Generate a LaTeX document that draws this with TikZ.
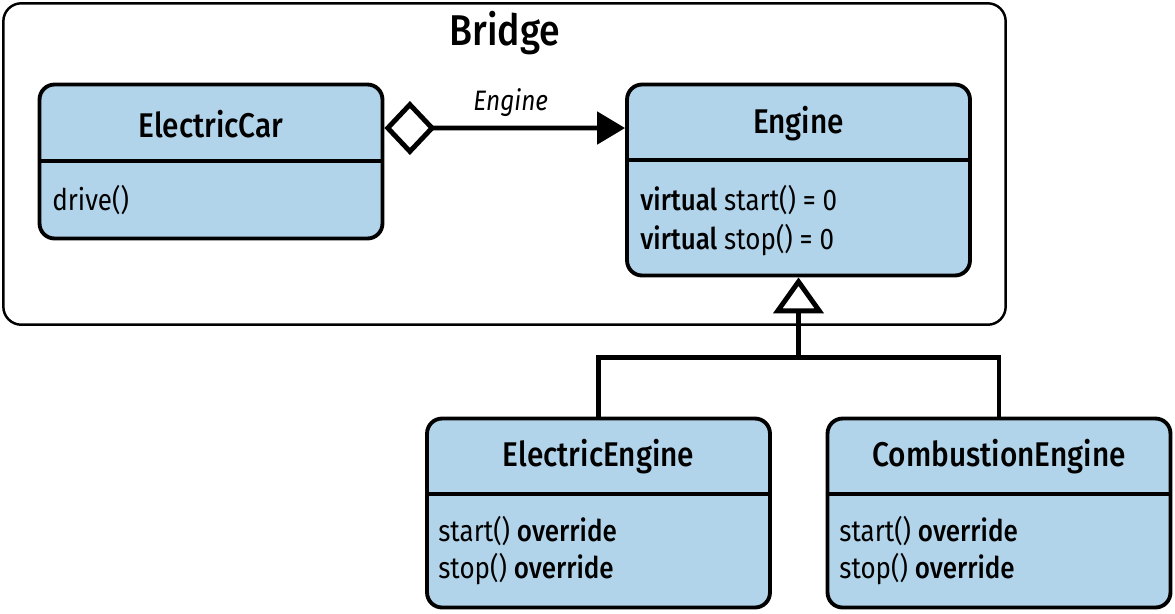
\documentclass[tikz,border=0pt]{standalone}
\usepackage{fontspec}
\setmainfont{Fira Sans}[FakeStretch=0.87,BoldFont={* Medium},
  ItalicFont={* Italic},BoldItalicFont={* Medium Italic}]
\usetikzlibrary{arrows.meta,positioning}
\definecolor{classblue}{RGB}{178,212,234}

\begin{document}
\begin{tikzpicture}[x=0.02cm,y=-0.02cm,
    classbox/.style={draw,line width=2.2pt,fill=classblue,rounded corners=0.3cm,
      inner sep=0pt,minimum width=6.86cm},
    classname/.style={font=\fontsize{19.5}{22}\selectfont\bfseries},
    member/.style={anchor=west,inner sep=0pt,font=\fontsize{17}{20}\selectfont},
    link/.style={line width=2.8pt}]
  \useasboundingbox (0,0) rectangle (1175,613);
  % the bridge frame
  \node[draw,line width=1.4pt,rounded corners=0.36cm,minimum width=20.05cm,
    minimum height=6.43cm] (bridge) at (504.5,164) {};
  \node[font=\fontsize{24.5}{28}\selectfont\bfseries] (bridgetitle) at (505,33) {Bridge};

  % classes
  \node[classbox,minimum height=3.08cm] (car) at (211,161.5) {};
  \node[classbox,minimum height=3.82cm] (engine) at (798.5,180) {};
  \node[classbox,minimum height=3.78cm] (eleceng) at (598.5,513) {};
  \node[classbox,minimum height=3.78cm] (combeng) at (999,513) {};

  \node[classname] (cartitle) at (211,124) {ElectricCar};
  \node[classname] (enginetitle) at (798.5,124) {Engine};
  \node[classname] (elecengtitle) at (598.5,457) {ElectricEngine};
  \node[classname] (combengtitle) at (999,457) {CombustionEngine};

  \draw[line width=2.2pt] (car.west |- 0,161) -- (car.east |- 0,161);
  \draw[line width=2.2pt] (engine.west |- 0,160) -- (engine.east |- 0,160);
  \draw[line width=2.2pt] (eleceng.west |- 0,494) -- (eleceng.east |- 0,494);
  \draw[line width=2.2pt] (combeng.west |- 0,494) -- (combeng.east |- 0,494);

  \node[member] (drive) at (52,200) {drive()};
  \node[member] (vstart) at (640,200) {\textbf{virtual} start() = 0};
  \node[member] (vstop) at (640,240) {\textbf{virtual} stop() = 0};
  \node[member] (estart) at (438,531) {start() \textbf{override}};
  \node[member] (estop) at (438,569) {stop() \textbf{override}};
  \node[member] (cstart) at (839,531) {start() \textbf{override}};
  \node[member] (cstop) at (839,569) {stop() \textbf{override}};

  % aggregation
  \draw[link,{Diamond[open,length=1.02cm,width=1.08cm,line width=2.8pt]}-{Triangle[length=0.56cm,width=0.64cm]}]
    ([yshift=0.67cm]car.east) -- node[above=2pt,xshift=0.12cm,font=\fontsize{16}{18}\selectfont\itshape] (agglabel) {Engine}
    ([yshift=1.04cm]engine.west);

  % inheritance
  \coordinate (join) at ([yshift=-1.6cm]engine.south);
  \draw[link] (eleceng.north) |- (join);
  \draw[link] (combeng.north) |- (join);
  \draw[link,-{Triangle[open,length=0.72cm,width=1.0cm,line width=2.8pt]}] (join) -- (engine.south);
\end{tikzpicture}
\end{document}
